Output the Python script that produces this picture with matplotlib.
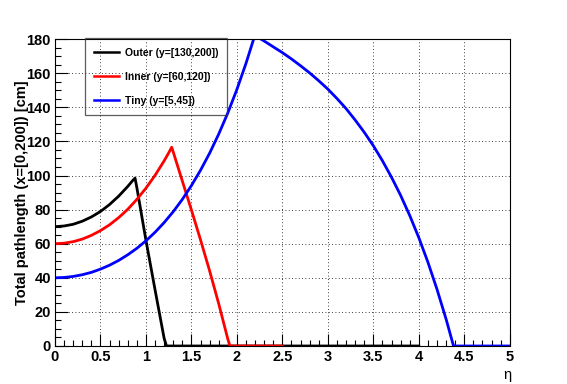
import matplotlib
matplotlib.use("Agg")
import matplotlib.pyplot as plt
from matplotlib.ticker import MultipleLocator

# eta values and path lengths
outer_eta = [0.0, 0.1, 0.2, 0.3, 0.4, 0.5, 0.6, 0.7, 0.8, 0.85, 0.88, 0.9, 1.0, 1.1, 1.2, 1.226, 2.0, 3.0, 4.0]
outer_len = [70.0, 70.4, 71.4, 73.2, 75.7, 78.9, 83.0, 87.9, 93.6, 96.8, 98.5, 92.9, 62.0, 33.0, 4.5, 0.0, 0.0, 0.0, 0.0]

inner_eta = [0.0, 0.1, 0.2, 0.3, 0.4, 0.5, 0.6, 0.7, 0.8, 0.9, 1.0, 1.1, 1.2, 1.25, 1.283,
             1.3, 1.4, 1.5, 1.6, 1.7, 1.8, 1.9, 1.924, 2.5]
inner_len = [60.0, 60.3, 61.2, 62.7, 64.9, 67.7, 71.1, 75.3, 80.2, 86.0, 92.6, 100.1, 108.6, 113.3, 116.6,
             113.8, 96.8, 79.8, 62.3, 44.1, 24.8, 4.1, 0.0, 0.0]

tiny_eta = [0.0, 0.1, 0.2, 0.3, 0.4, 0.5, 0.6, 0.7, 0.8, 0.9, 1.0, 1.1, 1.2, 1.3, 1.4, 1.5, 1.6,
            1.7, 1.8, 1.9, 2.0, 2.1, 2.2, 2.205, 2.25, 2.3, 2.4, 2.5, 2.6, 2.7, 2.8, 2.9, 3.0,
            3.1, 3.2, 3.3, 3.4, 3.5, 3.6, 3.7, 3.8, 3.9, 4.0, 4.1, 4.2, 4.3, 4.382, 5.0]
tiny_len = [40.0, 40.2, 40.8, 41.8, 43.2, 45.1, 47.4, 50.2, 53.5, 57.3, 61.7, 66.7, 72.4, 78.8, 86.0, 94.1, 103.1,
            113.1, 124.3, 136.7, 150.5, 165.8, 182.7, 182.2, 180.5, 178.9, 175.5, 172.1, 168.4, 164.4, 160.2, 155.6, 150.7,
            145.2, 139.3, 132.6, 125.4, 117.5, 108.7, 99.0, 88.4, 76.6, 63.6, 49.2, 33.3, 15.8, 0.0, 0.0]

labels = ["Outer (y=[130,200])", "Inner (y=[60,120])", "Tiny (y=[5,45])"]
colors = ["black", "red", "blue"]

plt.rcParams['font.family'] = ['Liberation Sans', 'DejaVu Sans']

fig = plt.figure(figsize=(5.67, 3.84), dpi=100)
ax = fig.add_axes([0.097, 0.099, 0.802, 0.799])

ax.plot(outer_eta, outer_len, color=colors[0], lw=2, label=labels[0])
ax.plot(inner_eta, inner_len, color=colors[1], lw=2, label=labels[1])
ax.plot(tiny_eta, tiny_len, color=colors[2], lw=2, label=labels[2])

ax.set_xlim(0, 5)
ax.set_ylim(0, 180)
ax.xaxis.set_major_locator(MultipleLocator(0.5))
ax.xaxis.set_minor_locator(MultipleLocator(0.1))
ax.yaxis.set_major_locator(MultipleLocator(20))
ax.yaxis.set_minor_locator(MultipleLocator(5))
ax.tick_params(which='both', direction='in', top=False, right=False, labelsize=10.5, pad=3)
ax.tick_params(which='major', length=9, width=0.8)
ax.tick_params(which='minor', length=4.5, width=0.8)
ax.xaxis.set_major_formatter(plt.FuncFormatter(lambda v, p: ('%g' % v)))
for lab in ax.get_xticklabels() + ax.get_yticklabels():
    lab.set_fontweight('bold')
ax.grid(True, which='major', color='black', linestyle=(0, (1, 3)), linewidth=0.6)

ax.set_ylabel("Total pathlength (x=[0,200]) [cm]", fontsize=10.5, fontweight='bold')
ax.yaxis.set_label_coords(-0.058, 0.5)
fig.text(0.894, 0.023, "η", fontsize=10.5, ha='center', va='center')

leg = ax.legend(loc='upper left', bbox_to_anchor=(0.066, 1.003), fontsize=7.5, frameon=True,
                fancybox=False, edgecolor='#333333', facecolor='none', framealpha=None,
                borderpad=0.9, labelspacing=1.35, handlelength=2.4, handletextpad=0.5,
                borderaxespad=0)
leg.get_frame().set_linewidth(0.9)
for t in leg.get_texts():
    t.set_fontweight('bold')
for h in leg.get_lines():
    h.set_linewidth(1.8)

fig.savefig("out.png", dpi=100)
